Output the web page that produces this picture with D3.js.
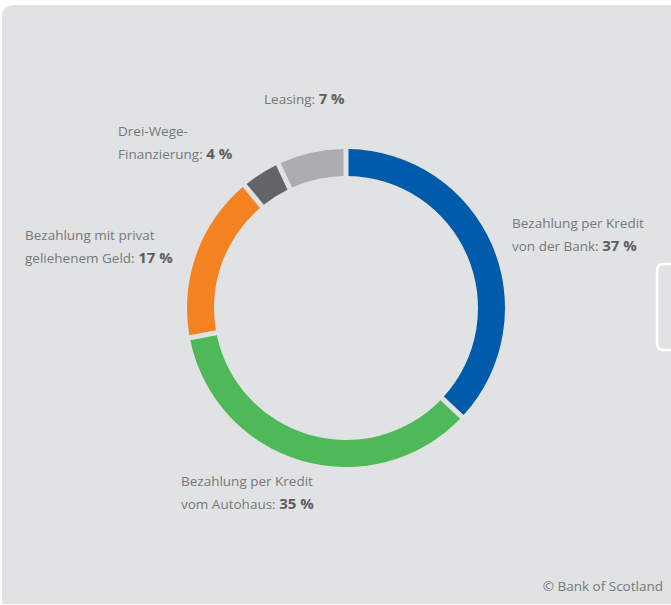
<!DOCTYPE html>
<html>
<head>
<meta charset="utf-8">
<script src="https://cdn.jsdelivr.net/npm/d3@7"></script>
<style>
  body { margin: 0; background: #fff; }
  svg { display: block; }
</style>
</head>
<body>
<div id="chart"></div>
<script>
// Daten (Anteile in %), im Uhrzeigersinn ab 12 Uhr
const kategorien = ["Bank", "Autohaus", "Privat", "DreiWege", "Leasing"];
const werte = [37, 35, 17, 4, 7];
const farben = ["#005bab", "#4fb859", "#f58220", "#636466", "#acadb0"];

// Beschriftungen: Textzeilen und Prozentwert
const zeilen = [
  ["Bezahlung per Kredit", "von der Bank: "],
  ["Bezahlung per Kredit", "vom Autohaus: "],
  ["Bezahlung mit privat", "geliehenem Geld: "],
  ["Drei-Wege-", "Finanzierung: "],
  ["Leasing: "]
];
const prozent = ["37 %", "35 %", "17 %", "4 %", "7 %"];
const labelPos = [[512, 228], [181, 486], [25, 240], [118, 136], [264, 104]];

const width = 671, height = 605;
const cx = 346, cy = 308;
const rAussen = 159, rInnen = 132;

const svg = d3.select("#chart")
  .append("svg")
  .attr("width", width)
  .attr("height", height);

// Hintergrundpanel
svg.append("path")
  .attr("d", `M2,604 L2,17 Q2,5 14,5 L${width + 20},5 L${width + 20},604 Z`)
  .attr("fill", "#e1e2e4");

// kleines Bedienelement rechts
svg.append("rect")
  .attr("x", 657).attr("y", 264)
  .attr("width", 30).attr("height", 86)
  .attr("rx", 6)
  .attr("fill", "none")
  .attr("stroke", "#fff")
  .attr("stroke-width", 2.5);

const pie = d3.pie().sort(null).value(d => d);
const arc = d3.arc()
  .innerRadius(rInnen)
  .outerRadius(rAussen)
  .padRadius(rAussen)
  .padAngle(5 / rAussen);

const g = svg.append("g").attr("transform", `translate(${cx},${cy})`);

g.selectAll("path")
  .data(pie(werte))
  .enter()
  .append("path")
  .attr("d", arc)
  .attr("fill", (d, i) => farben[i]);

// Labels
const schrift = "'Open Sans', 'Noto Sans', sans-serif";
zeilen.forEach((z, i) => {
  const t = svg.append("text")
    .attr("x", labelPos[i][0])
    .attr("y", labelPos[i][1])
    .attr("font-family", schrift)
    .attr("font-size", 13.5)
    .attr("fill", "#77787b");
  z.forEach((zeile, j) => {
    const ts = t.append("tspan")
      .attr("x", labelPos[i][0])
      .attr("dy", j === 0 ? 0 : 23)
      .text(zeile);
    if (j === z.length - 1) {
      t.append("tspan")
        .attr("font-weight", "bold")
        .attr("font-size", 15)
        .attr("fill", "#5d5e61")
        .text(prozent[i]);
    }
  });
});

svg.append("text")
  .attr("x", 663)
  .attr("y", 591)
  .attr("text-anchor", "end")
  .attr("font-family", schrift)
  .attr("font-size", 13.5)
  .attr("fill", "#77787b")
  .text("© Bank of Scotland");
</script>
</body>
</html>
